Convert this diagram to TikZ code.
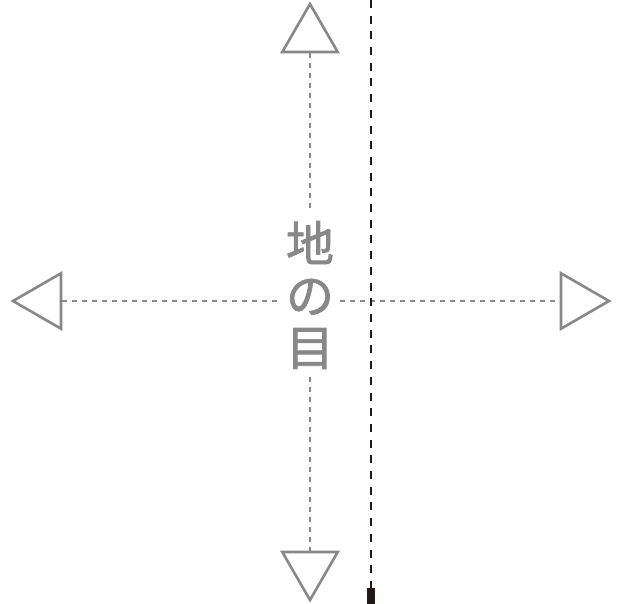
\documentclass[tikz,border=0pt]{standalone}
\usepackage{fontspec}
\newfontfamily\jpfont[UprightFeatures={FakeBold=1.5}]{Noto Sans CJK JP}
\usetikzlibrary{shapes.geometric}
\definecolor{grain}{HTML}{888888}
\definecolor{ink}{HTML}{231815}
\tikzset{
  headtri/.style={regular polygon, regular polygon sides=3, draw=grain, line width=2.6pt, minimum size=64pt, inner sep=0pt},
  grainline/.style={grain, line width=2.6pt, dash pattern=on 4.5pt off 5.5pt},
  foldline/.style={ink, line width=2.8pt, dash pattern=on 8pt off 7.7pt}
}
\begin{document}
\begin{tikzpicture}[x=1pt, y=-1pt]
	\useasboundingbox (0,0) rectangle (624,604);
	\node[headtri] (top) at (310,36) {};
	\node[headtri, shape border rotate=180] (bottom) at (310,568) {};
	\node[headtri, shape border rotate=90] (left) at (45,301) {};
	\node[headtri, shape border rotate=270] (right) at (577,301) {};
	\node[inner sep=0pt, minimum width=60pt, minimum height=164pt, align=center, text=grain,
	  font=\jpfont\fontsize{48}{52}\selectfont] (label) at (310,295) {地\\の\\目};
	\draw[grainline] (top.south) -- (label.north);
	\draw[grainline] (label.south) -- (bottom.north);
	\draw[grainline] (left.east) -- (left.east -| label.west);
	\draw[grainline] (right.west -| label.east) -- (right.west);
	\coordinate (fold top) at (371,0);
	\coordinate (fold end) at (371,588);
	\draw[foldline] (fold top) -- (fold end);
	\fill[ink] (367,588) rectangle (375,604);
\end{tikzpicture}
\end{document}
